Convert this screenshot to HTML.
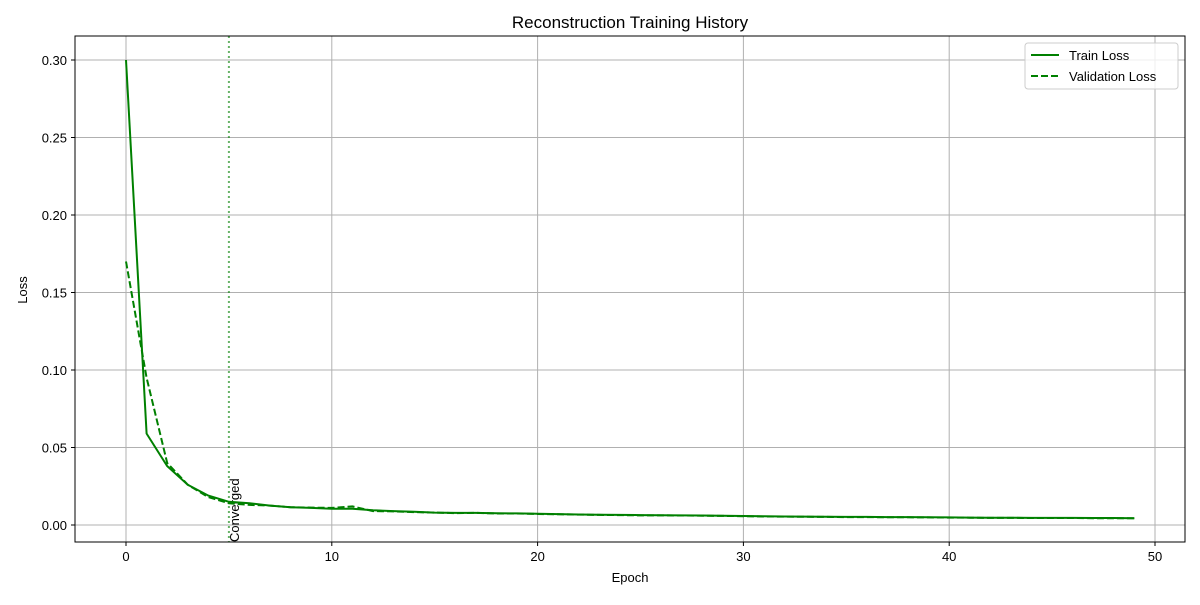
<!DOCTYPE html>
<html><head><meta charset="utf-8"><style>
body{margin:0;background:#fff;font-family:"Liberation Sans","DejaVu Sans",sans-serif}
text{font-family:"Liberation Sans","DejaVu Sans",sans-serif}
</style></head><body>
<svg id="chart" width="1200" height="600" xmlns="http://www.w3.org/2000/svg">
<rect x="0" y="0" width="1200" height="600" fill="#fff"/>
<g id="grid"></g>
<g id="marks"></g>
<rect x="75" y="36" width="1110" height="506" fill="none" stroke="#000" stroke-width="1"/>
<g id="ticks"></g>
<text x="630" y="28" font-size="17" text-anchor="middle">Reconstruction Training History</text>
<text x="630" y="582" font-size="13" text-anchor="middle">Epoch</text>
<text x="27" y="290" font-size="13" text-anchor="middle" transform="rotate(-90 27 290)">Loss</text>
<g>
<rect x="1025" y="43" width="153" height="46" rx="3" fill="#fff" fill-opacity="0.8" stroke="#ccc"/>
<line x1="1031" y1="55" x2="1059" y2="55" stroke="#008000" stroke-width="2"/>
<text x="1069" y="60" font-size="13">Train Loss</text>
<line x1="1031" y1="76" x2="1059" y2="76" stroke="#008000" stroke-width="2" stroke-dasharray="7,3"/>
<text x="1069" y="81" font-size="13">Validation Loss</text>
</g>
</svg>
<script>
const trainLoss=[0.300,0.059,0.038,0.026,0.019,0.015,0.014,0.0125,0.0115,0.011,0.0105,0.0105,0.0095,0.009,0.0085,0.008,0.0078,0.0078,0.0076,0.0075,0.0072,0.007,0.0068,0.0066,0.0065,0.0064,0.0063,0.0062,0.0061,0.006,0.0058,0.0056,0.0055,0.0054,0.0053,0.0052,0.0052,0.0051,0.0051,0.005,0.0049,0.0048,0.0047,0.0047,0.0046,0.0046,0.0046,0.0045,0.0045,0.0044];
const valLoss=[0.170,0.095,0.040,0.026,0.018,0.014,0.013,0.0125,0.0115,0.0112,0.011,0.012,0.009,0.0088,0.0083,0.008,0.0077,0.0078,0.0074,0.0074,0.0071,0.0069,0.0067,0.0065,0.0064,0.0062,0.0062,0.0061,0.006,0.0059,0.0057,0.0055,0.0054,0.0053,0.0052,0.0051,0.0051,0.005,0.005,0.0049,0.0048,0.0047,0.0046,0.0046,0.0045,0.0045,0.0045,0.0044,0.0044,0.0043];
const xTicks=[0,10,20,30,40,50];
const yTicks=[0,0.05,0.10,0.15,0.20,0.25,0.30];
const yTickLabels=["0.00","0.05","0.10","0.15","0.20","0.25","0.30"];
const convergedEpoch=5;
const NS="http://www.w3.org/2000/svg";
const xs=e=>126+e*20.58, ys=v=>525-v*1550;
function mk(tag,attrs,parent){const el=document.createElementNS(NS,tag);for(const k in attrs)el.setAttribute(k,attrs[k]);parent.appendChild(el);return el;}
const grid=document.getElementById('grid'),ticks=document.getElementById('ticks'),marks=document.getElementById('marks');
xTicks.forEach(t=>{const x=xs(t);
const g=mk('line',{x1:x,x2:x,y1:36,y2:542,stroke:'#b0b0b0','stroke-width':1},grid);


mk('line',{x1:x,x2:x,y1:542,y2:546,stroke:'#000'},ticks);
const l=mk('text',{x:x,y:561,'font-size':13,'text-anchor':'middle'},ticks);l.textContent=t;

});
yTicks.forEach((t,i)=>{const y=ys(t);
const g=mk('line',{x1:75,x2:1185,y1:y,y2:y,stroke:'#b0b0b0','stroke-width':1},grid);


mk('line',{x1:71,x2:75,y1:y,y2:y,stroke:'#000'},ticks);
const l=mk('text',{x:67,y:y+5,'font-size':13,'text-anchor':'end'},ticks);l.textContent=yTickLabels[i];

});
const cx=xs(convergedEpoch);
const cl=mk('line',{x1:cx,x2:cx,y1:36,y2:542,stroke:'#008000','stroke-opacity':0.6,'stroke-width':2,'stroke-dasharray':'2,3'},marks);


const ct=mk('text',{x:cx+10,y:542,'font-size':13,transform:`rotate(-90 ${cx+10} 542)`},marks);ct.textContent='Converged';


const pts=a=>a.map((v,i)=>xs(i).toFixed(1)+','+ys(v).toFixed(1)).join(' ');
const vl=mk('polyline',{points:pts(valLoss),fill:'none',stroke:'#008000','stroke-width':2,'stroke-dasharray':'7,3'},marks);


const tl=mk('polyline',{points:pts(trainLoss),fill:'none',stroke:'#008000','stroke-width':2},marks);


</script>
</body></html>
